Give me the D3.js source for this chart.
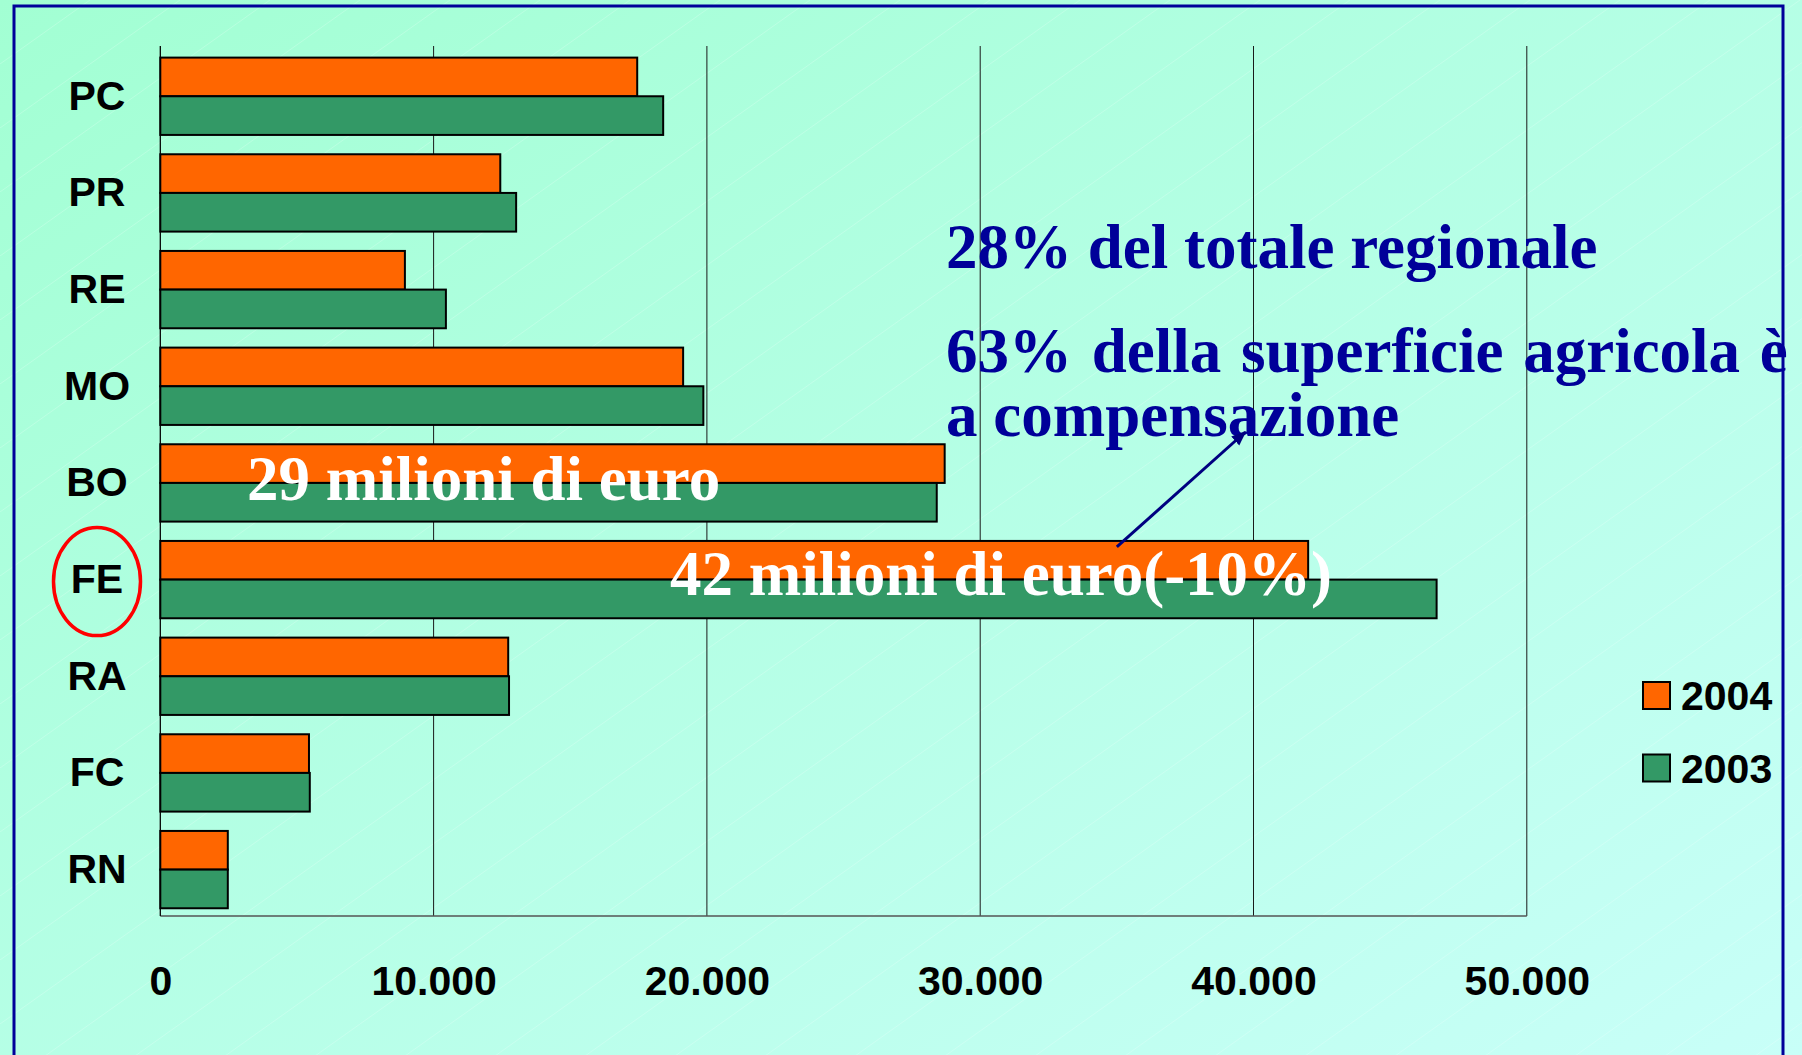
<!DOCTYPE html>
<html>
<head>
<meta charset="utf-8">
<script src="https://cdn.jsdelivr.net/npm/d3@7"></script>
<style>
  html, body { margin: 0; padding: 0; overflow: hidden; }
  svg { display: block; }
</style>
</head>
<body>
<script>
// Province of Emilia-Romagna, compensatory payments (thousand euro)
const categories = ["PC", "PR", "RE", "MO", "BO", "FE", "RA", "FC", "RN"];
const years = ["2004", "2003"];
const values2004 = [17450, 12440, 8950, 19130, 28700, 42000, 12730, 5440, 2470];
const values2003 = [18400, 13020, 10450, 19870, 28410, 46700, 12760, 5470, 2470];
const xTicks = [0, 10000, 20000, 30000, 40000, 50000];
const xTickLabels = ["0", "10.000", "20.000", "30.000", "40.000", "50.000"];

const W = 1802, H = 1055;
const colors = { "2004": "#FF6600", "2003": "#339966" };
const sans = "'Liberation Sans', Arial, Helvetica, sans-serif";
const serif = "'Liberation Serif', 'Times New Roman', Times, serif";

const rows = categories.map((c, i) => ({ cat: c, "2004": values2004[i], "2003": values2003[i] }));

const svg = d3.select("body").append("svg").attr("width", W).attr("height", H);
const defs = svg.append("defs");

// background: diagonal mint-to-aqua gradient
const grad = defs.append("linearGradient").attr("id", "bg")
  .attr("x1", "0%").attr("y1", "0%").attr("x2", "100%").attr("y2", "100%");
grad.append("stop").attr("offset", "0%").attr("stop-color", "#A2FFD3");
grad.append("stop").attr("offset", "100%").attr("stop-color", "#C8FFF8");

// faint diagonal texture
const pat = defs.append("pattern").attr("id", "tex").attr("patternUnits", "userSpaceOnUse")
  .attr("width", 90).attr("height", 64);
pat.append("path").attr("d", "M0,64 L90,0").attr("stroke", "#ffffff")
  .attr("stroke-opacity", 0.2).attr("stroke-width", 1);

const arrowHead = defs.append("marker").attr("id", "arrow").attr("viewBox", "0 0 10 10")
  .attr("refX", 9).attr("refY", 5).attr("markerWidth", 5).attr("markerHeight", 5)
  .attr("orient", "auto");
arrowHead.append("path").attr("d", "M0,1 L10,5 L0,9 Z").attr("fill", "#000080");

svg.append("rect").attr("width", W).attr("height", H).attr("fill", "url(#bg)");
svg.append("rect").attr("width", W).attr("height", H).attr("fill", "url(#tex)");

// frame
svg.append("rect").attr("x", 14).attr("y", 6).attr("width", 1769).attr("height", 1080)
  .attr("fill", "none").attr("stroke", "#000099").attr("stroke-width", 3);

// scales
const x = d3.scaleLinear().domain([0, 50000]).range([160.3, 1526.8]);
const y = d3.scaleBand().domain(categories).range([46, 916])
  .paddingInner(0.2).paddingOuter(0.1).align(0.6);
const ySub = d3.scaleBand().domain(years).range([0, y.bandwidth()]);

const plotTop = 46, plotBottom = 916;

// vertical gridlines
const grid = svg.append("g");
grid.selectAll("line").data(xTicks).join("line")
  .attr("x1", d => x(d)).attr("x2", d => x(d))
  .attr("y1", plotTop).attr("y2", plotBottom)
  .attr("stroke", "#1a1a1a").attr("stroke-width", 1);

// bottom axis line
svg.append("line").attr("x1", x(0)).attr("x2", x(50000))
  .attr("y1", plotBottom).attr("y2", plotBottom)
  .attr("stroke", "#555555").attr("stroke-width", 1.5);

// x tick labels
const xAxis = d3.axisBottom(x).tickValues(xTicks)
  .tickFormat((d, i) => xTickLabels[i]).tickSize(0).tickPadding(0);
const gx = svg.append("g").attr("transform", `translate(0,${plotBottom})`).call(xAxis);
gx.select(".domain").remove();
gx.selectAll("text").attr("y", 0).attr("dy", null).attr("dominant-baseline", null)
  .attr("transform", "translate(0,79)")
  .attr("font-family", sans).attr("font-weight", "bold").attr("font-size", 41)
  .attr("fill", "#000");

// bars
const groups = svg.append("g").selectAll("g").data(rows).join("g")
  .attr("transform", d => `translate(0,${y(d.cat)})`);
groups.selectAll("rect").data(d => years.map(k => ({ key: k, value: d[k] }))).join("rect")
  .attr("x", x(0))
  .attr("y", d => ySub(d.key))
  .attr("width", d => x(d.value) - x(0))
  .attr("height", ySub.bandwidth())
  .attr("fill", d => colors[d.key])
  .attr("stroke", "#000").attr("stroke-width", 2);

// category labels
const yAxis = d3.axisLeft(y).tickSize(0).tickPadding(0);
const gy = svg.append("g").attr("transform", `translate(${x(0)},0)`).call(yAxis);
gy.select(".domain").attr("stroke", "#000").attr("stroke-width", 1)
  .attr("d", `M0,${plotTop}V${plotBottom}`);
gy.selectAll("text").attr("x", 97 - x(0)).attr("dy", "0.33em")
  .attr("text-anchor", "middle")
  .attr("font-family", sans).attr("font-weight", "bold").attr("font-size", 41)
  .attr("fill", "#000");

// highlight ring around FE
svg.append("ellipse").attr("cx", 97).attr("cy", y("FE") + y.bandwidth() / 2 + 2)
  .attr("rx", 43.5).attr("ry", 54).attr("fill", "none")
  .attr("stroke", "#FF0000").attr("stroke-width", 3.5);

// legend
const legend = svg.append("g").selectAll("g").data(years).join("g")
  .attr("transform", (d, i) => `translate(1643,${682 + i * 72.5})`);
legend.append("rect").attr("width", 27).attr("height", 27)
  .attr("fill", d => colors[d]).attr("stroke", "#000").attr("stroke-width", 2);
legend.append("text").attr("x", 38).attr("y", 28).text(d => d)
  .attr("font-family", sans).attr("font-weight", "bold").attr("font-size", 41)
  .attr("fill", "#000");

// notes
const notes = svg.append("g").attr("font-family", serif).attr("font-weight", "bold")
  .attr("font-size", 63).attr("fill", "#000099");
notes.append("text").attr("x", 946).attr("y", 268).text("28% del totale regionale");
notes.append("text").attr("x", 946).attr("y", 372).attr("word-spacing", 4)
  .text("63% della superficie agricola è");
notes.append("text").attr("x", 946).attr("y", 436).text("a compensazione");

svg.append("line")
  .attr("x1", x(35000)).attr("y1", y("FE") + 6)
  .attr("x2", x(39700)).attr("y2", 432)
  .attr("stroke", "#000080").attr("stroke-width", 3)
  .attr("marker-end", "url(#arrow)");

// value callouts
const callouts = svg.append("g").attr("font-family", serif).attr("font-weight", "bold")
  .attr("font-size", 63).attr("fill", "#ffffff");
callouts.append("text").attr("x", 247).attr("y", 500).text("29 milioni di euro");
callouts.append("text").attr("x", 670).attr("y", 595).text("42 milioni di euro(-10%)");
</script>
</body>
</html>
